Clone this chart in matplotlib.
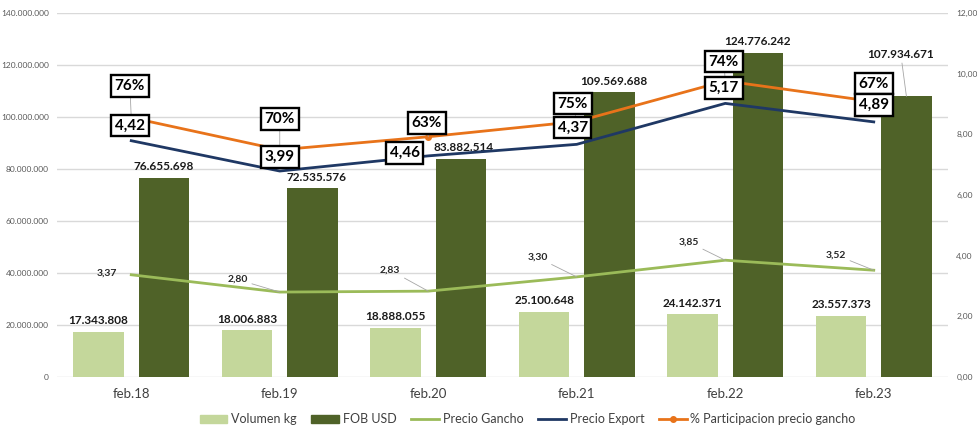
import matplotlib
matplotlib.use("Agg")
import matplotlib.pyplot as plt
import numpy as np
from matplotlib.ticker import FuncFormatter, MultipleLocator
from matplotlib.lines import Line2D
from matplotlib.patches import Patch

plt.rcParams["font.family"] = ["Lato", "DejaVu Sans"]

# ---- data ----
categories = ["feb.18", "feb.19", "feb.20", "feb.21", "feb.22", "feb.23"]
volumen_kg = [17343808, 18006883, 18888055, 25100648, 24142371, 23557373]
fob_usd = [76655698, 72535576, 83882514, 109569688, 124776242, 107934671]
precio_gancho = [3.37, 2.80, 2.83, 3.30, 3.85, 3.52]
precio_export = [4.42, 3.99, 4.46, 4.37, 5.17, 4.89]
participacion = [76, 70, 63, 75, 74, 67]

LIGHT = "#c4d79b"
DARK = "#4f6228"
GANCHO = "#9bbb59"
NAVY = "#1f3864"
ORANGE = "#e8731a"


def miles(v, _pos=None):
    return f"{int(round(v)):,}".replace(",", ".")


def coma(v, _pos=None):
    return f"{v:.2f}".replace(".", ",")


# Excel stacked-line series: each line sits on top of the previous one
x = np.arange(len(categories))
line_gancho = np.array(precio_gancho)
line_export = line_gancho + np.array(precio_export)
line_part = line_export + np.array(participacion) / 100.0

fig = plt.figure(figsize=(9.77, 4.26), dpi=100)
ax = fig.add_axes([57 / 977, 49 / 426, 891 / 977, 364 / 426])
ax2 = ax.twinx()

w = 0.34
ax.bar(x - 0.22, volumen_kg, w, color=LIGHT, zorder=2)
ax.bar(x + 0.22, fob_usd, w, color=DARK, zorder=2)

ax.set_xlim(-0.5, len(categories) - 0.5)
ax.set_ylim(0, 140_000_000)
ax.yaxis.set_major_locator(MultipleLocator(20_000_000))
ax.yaxis.set_major_formatter(FuncFormatter(miles))
ax.grid(axis="y", color="#d9d9d9", lw=1, zorder=0)
ax.set_axisbelow(True)
ax.set_xticks(x)
ax.set_xticklabels(categories, fontsize=9.5, color="#404040")
ax.tick_params(axis="y", labelsize=6, colors="#595959", length=0, pad=6)
ax.tick_params(axis="x", length=0, pad=8)
for s in ax.spines.values():
    s.set_visible(False)

ax2.set_ylim(0, 12)
ax2.yaxis.set_major_locator(MultipleLocator(2))
ax2.yaxis.set_major_formatter(FuncFormatter(coma))
ax2.tick_params(axis="y", labelsize=6, colors="#595959", length=0, pad=6)
for s in ax2.spines.values():
    s.set_visible(False)

ax2.plot(x, line_gancho, color=GANCHO, lw=2, zorder=3)
ax2.plot(x, line_export, color=NAVY, lw=2, zorder=3)
ax2.plot(x, line_part, color=ORANGE, lw=2, marker="o", ms=4, zorder=3)

# bar labels
for xi, v in zip(x, volumen_kg):
    ax.annotate(miles(v), (xi - 0.22, v), xytext=(0, 4), textcoords="offset points",
                ha="center", va="bottom", fontsize=8.5, fontweight="bold", color="#1a1a1a")
fob_off = [(0, 4), (3, 4), (2, 4), (3, 4), (0, 4), (-4, 26)]
for xi, v, off in zip(x, fob_usd, fob_off):
    arrow = dict(arrowstyle="-", color="#a6a6a6", lw=0.6, shrinkA=0, shrinkB=0) if off[1] > 10 else None
    ax.annotate(miles(v), (xi + 0.22, v), xytext=off, textcoords="offset points",
                ha="center", va="bottom", fontsize=8.5, fontweight="bold", color="#1a1a1a",
                arrowprops=arrow)

# precio gancho labels
g_off = [(-10, 1), (-23, 9), (-20, 15), (-21, 14), (-19, 13), (-20, 11)]
for xi, yv, v, off in zip(x, line_gancho, precio_gancho, g_off):
    arrow = dict(arrowstyle="-", color="#a6a6a6", lw=0.6, shrinkA=1, shrinkB=0) if abs(off[0]) > 10 else None
    ax2.annotate(coma(v), (xi, yv), xytext=off, textcoords="offset points",
                 ha="right", va="center", fontsize=7.5, fontweight="bold", color="#262626",
                 arrowprops=arrow, zorder=4)

box = dict(boxstyle="square,pad=0.25", fc="white", ec="black", lw=1.7)

# % participacion labels
p_off = [(-1, 23), (0, 22), (-1, 10), (-3, 13), (-1, 14), (0, 13)]
for xi, yv, v, off in zip(x, line_part, participacion, p_off):
    ax2.annotate(f"{v}%", (xi, yv), xytext=off, textcoords="offset points",
                 ha="center", va="center", fontsize=11, fontweight="bold", color="black",
                 bbox=box, arrowprops=dict(arrowstyle="-", color="#a6a6a6", lw=0.6,
                                           shrinkA=0, shrinkB=0),
                 zorder=5)

# precio export labels
e_off = [(-1, 11), (0, 10), (-17, 2), (-3, 12), (-1, 11), (0, 12)]
for xi, yv, v, off in zip(x, line_export, precio_export, e_off):
    ax2.annotate(coma(v), (xi, yv), xytext=off, textcoords="offset points",
                 ha="center", va="center", fontsize=11, fontweight="bold", color="black",
                 bbox=box, zorder=6)

handles = [
    Patch(color=LIGHT, label="Volumen kg"),
    Patch(color=DARK, label="FOB USD"),
    Line2D([], [], color=GANCHO, lw=2, label="Precio Gancho"),
    Line2D([], [], color=NAVY, lw=2, label="Precio Export"),
    Line2D([], [], color=ORANGE, lw=2, marker="o", ms=4, label="% Participacion precio gancho"),
]
fig.legend(handles=handles, loc="lower center", bbox_to_anchor=(0.54, -0.025), ncol=5,
           frameon=False, fontsize=9, labelcolor="#404040", handlelength=2.2,
           handletextpad=0.3, columnspacing=1.2)

fig.savefig("out.png", dpi=100)
